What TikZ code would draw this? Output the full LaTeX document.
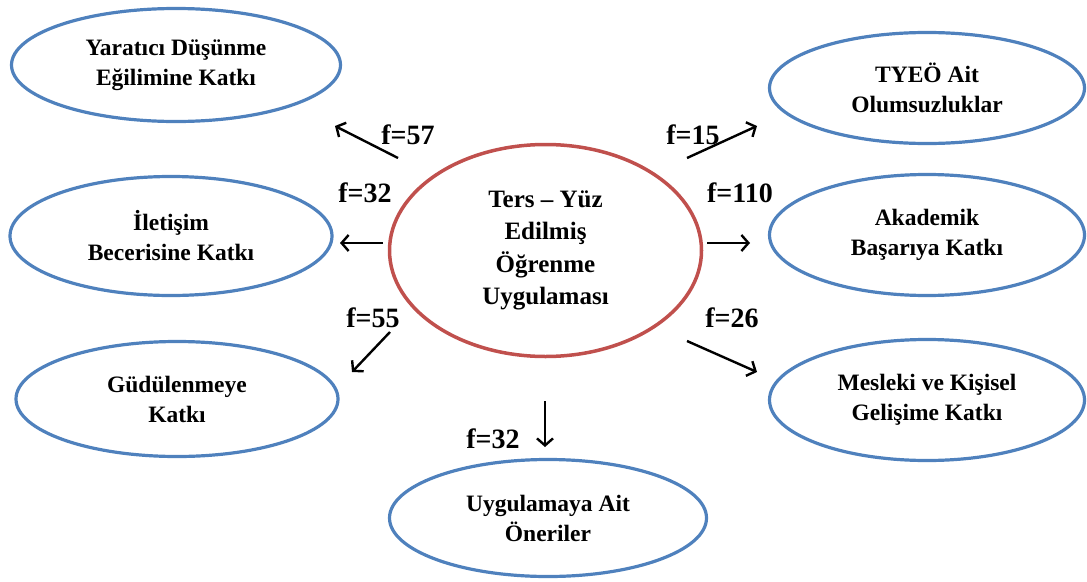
\documentclass[tikz,border=0pt]{standalone}
\usepackage{fontspec}
\setmainfont{Liberation Serif}
\usetikzlibrary{shapes.geometric,arrows.meta}
\definecolor{ovalblue}{RGB}{79,129,189}
\definecolor{ovalred}{RGB}{192,80,77}
\tikzset{
  oval/.style={ellipse, draw=ovalblue, line width=3.2pt, inner sep=0pt, align=center,
    font=\fontsize{23.5}{30}\selectfont\bfseries},
  mainoval/.style={ellipse, draw=ovalred, line width=3.5pt, inner sep=0pt, align=center,
    font=\fontsize{25}{32.5}\selectfont\bfseries},
  freq/.style={font=\fontsize{28}{28}\selectfont\bfseries, inner sep=0pt},
  arr/.style={line width=2.4pt, -{Straight Barb[length=7pt,width=16pt,line width=2.4pt]}}
}
\begin{document}
\begin{tikzpicture}[x=1pt,y=-1pt]
\useasboundingbox (0,0) rectangle (1087,581);
% central
\node[mainoval, minimum width=312pt, minimum height=212pt] (c) at (545.5,250.5)
  {Ters -- Yüz\\Edilmiş\\Öğrenme\\Uygulaması};
% left
\node[oval, minimum width=329pt, minimum height=113pt] (n1) at (176,65)
  {Yaratıcı Düşünme\\Eğilimine Katkı};
\node[oval, minimum width=322pt, minimum height=119pt] (n2) at (171,236)
  {İletişim\\Becerisine Katkı};
\node[oval, minimum width=322pt, minimum height=115pt] (n3) at (177,399)
  {Güdülenmeye\\Katkı};
% right
\node[oval, minimum width=315pt, minimum height=111pt] (n4) at (927,88)
  {TYEÖ Ait\\Olumsuzluklar};
\node[oval, minimum width=315pt, minimum height=121pt] (n5) at (927,235)
  {Akademik\\Başarıya Katkı};
\node[oval, minimum width=315pt, minimum height=121pt] (n6) at (927,400)
  {Mesleki ve Kişisel\\Gelişime Katkı};
% bottom
\node[oval, minimum width=317pt, minimum height=117pt] (n7) at (548,518)
  {Uygulamaya Ait\\Öneriler};
% arrow end points
\coordinate (t1) at (398,158); \coordinate (h1) at (335,126);
\coordinate (t2) at (383,243); \coordinate (h2) at (340,243);
\coordinate (t3) at (390,332); \coordinate (h3) at (352,372);
\coordinate (t4) at (687,158); \coordinate (h4) at (757,126);
\coordinate (t5) at (707,243); \coordinate (h5) at (750,243);
\coordinate (t6) at (687,341); \coordinate (h6) at (757,372);
\coordinate (t7) at (545,401); \coordinate (h7) at (545,447);
\draw[arr] (t1) -- (h1);
\draw[arr] (t2) -- (h2);
\draw[arr] (t3) -- (h3);
\draw[arr] (t4) -- (h4);
\draw[arr] (t5) -- (h5);
\draw[arr] (t6) -- (h6);
\draw[arr] (t7) -- (h7);
% labels
\node[freq] (f1) at (408,135) {f=57};
\node[freq] (f2) at (365,193) {f=32};
\node[freq] (f3) at (373,318) {f=55};
\node[freq] (f4) at (693,135) {f=15};
\node[freq] (f5) at (740,193) {f=110};
\node[freq] (f6) at (732,318) {f=26};
\node[freq] (f7) at (493,439) {f=32};
\end{tikzpicture}
\end{document}
